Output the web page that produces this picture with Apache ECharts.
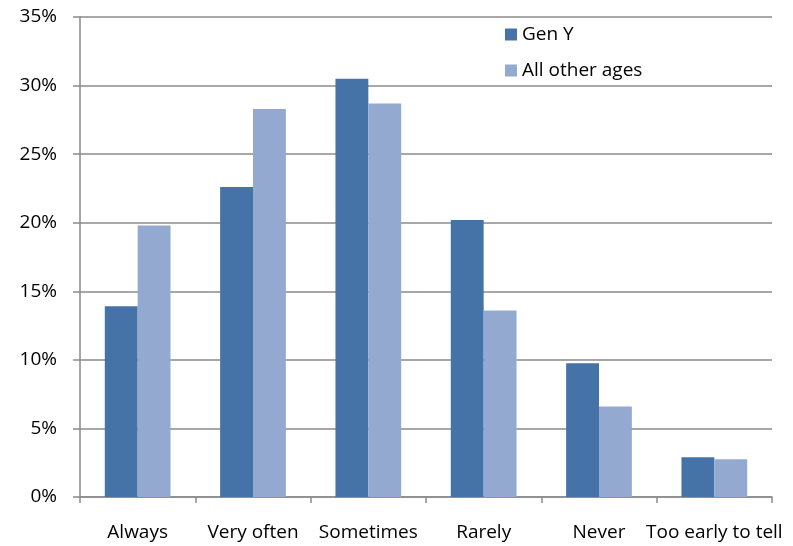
<!DOCTYPE html>
<html>
<head>
<meta charset="utf-8">
<script src="https://cdn.jsdelivr.net/npm/echarts@6/dist/echarts.min.js"></script>
<style>
html,body{margin:0;padding:0;background:#fff;}
#chart{width:793px;height:546px;}
</style>
</head>
<body>
<div id="chart"></div>
<script>
const categories = ["Always", "Very often", "Sometimes", "Rarely", "Never", "Too early to tell"];
const genY = [13.9, 22.6, 30.5, 20.2, 9.75, 2.9];
const otherAges = [19.8, 28.3, 28.7, 13.6, 6.6, 2.75];
const seriesNames = ["Gen Y", "All other ages"];
const yTicks = { min: 0, max: 35, interval: 5 };

const font = "'Open Sans', sans-serif";
const gray = "#8a8a8a";
const chart = echarts.init(document.getElementById('chart'), null, { renderer: 'canvas' });
chart.setOption({
  animation: false,
  backgroundColor: '#fff',
  grid: { left: 80, right: 21, top: 17, bottom: 49, containLabel: false },
  legend: {
    orient: 'vertical',
    left: 500, top: 20,
    itemWidth: 12, itemHeight: 12,
    itemGap: 17,
    icon: 'rect',
    textStyle: { fontFamily: font, fontSize: 19, color: '#000', padding: [0,0,0,0] },
    data: seriesNames
  },
  xAxis: {
    type: 'category',
    data: categories,
    axisLine: { show: true, lineStyle: { color: gray, width: 1.5 } },
    axisTick: { show: true, length: 6, lineStyle: { color: gray, width: 1.5 } },
    axisLabel: { fontFamily: font, fontSize: 19, color: '#000', margin: 26, interval: 0 }
  },
  yAxis: {
    type: 'value',
    min: yTicks.min, max: yTicks.max, interval: yTicks.interval,
    axisLine: { show: true, lineStyle: { color: gray, width: 1.5 } },
    axisTick: { show: true, length: 7, lineStyle: { color: gray, width: 1.5 } },
    axisLabel: { fontFamily: font, fontSize: 19, color: '#000', margin: 23, formatter: v => v + '%' },
    splitLine: { show: true, lineStyle: { color: gray, width: 1.5 } }
  },
  series: [
    { name: seriesNames[0], type: 'bar', data: genY, barGap: '0%', barCategoryGap: '43%',
      itemStyle: { color: '#4573A7' } },
    { name: seriesNames[1], type: 'bar', data: otherAges, barGap: '0%', barCategoryGap: '43%',
      itemStyle: { color: '#94A9D0' } }
  ]
});
</script>
</body>
</html>
